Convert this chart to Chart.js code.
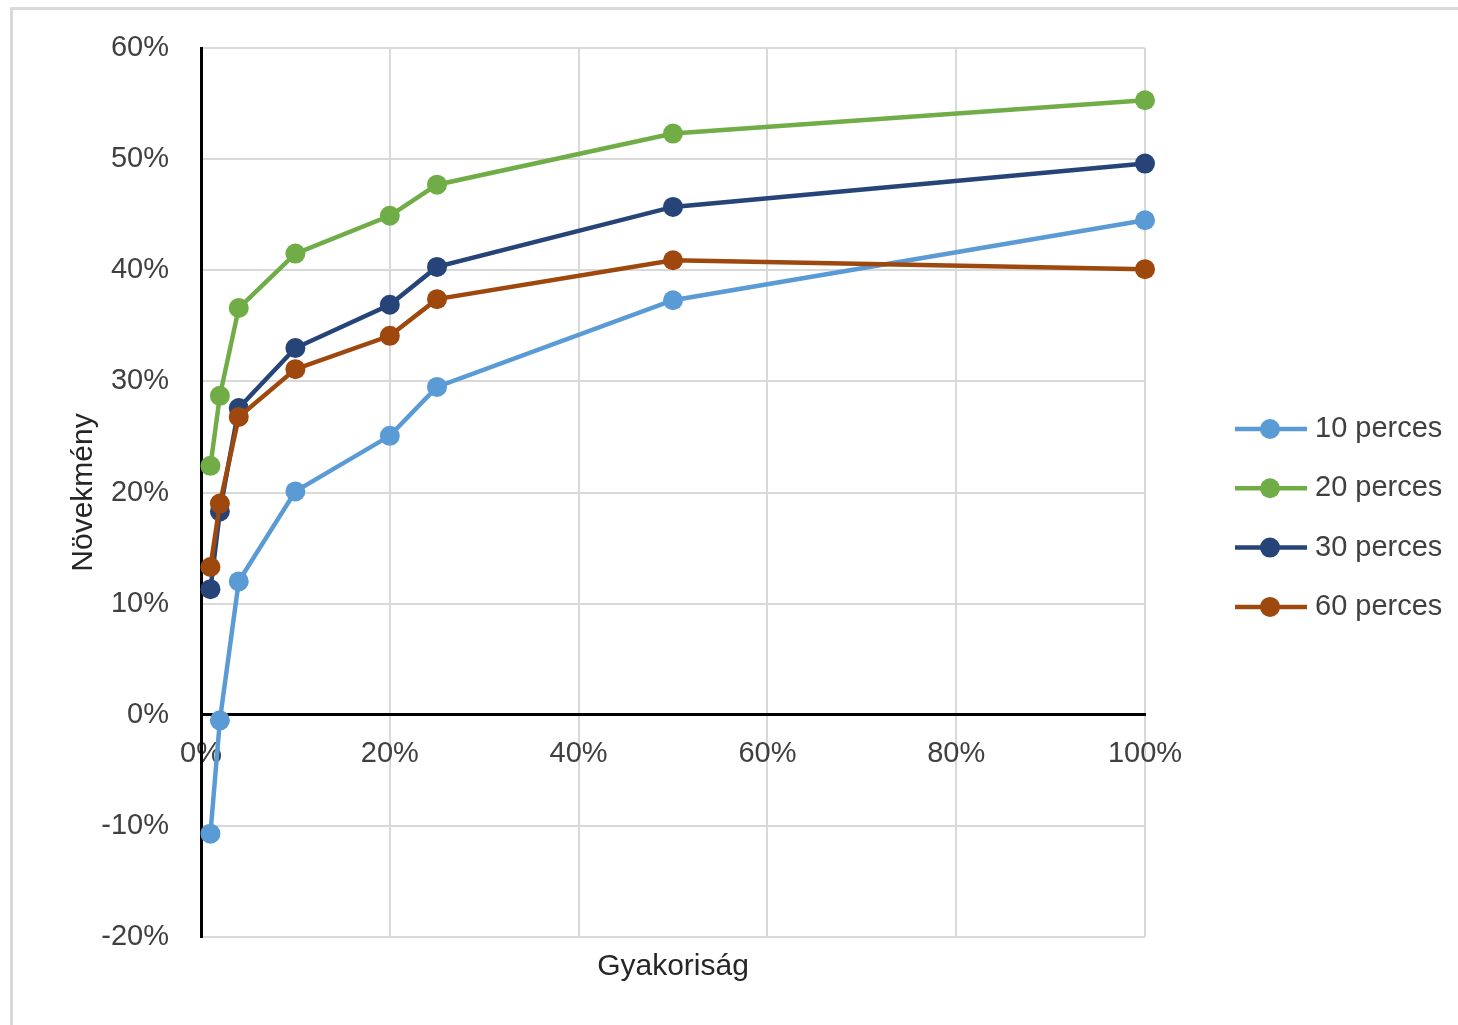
<!DOCTYPE html>
<html>
<head>
<meta charset="utf-8">
<script src="https://cdn.jsdelivr.net/npm/chart.js@4"></script>
<style>
  html, body { margin: 0; padding: 0; background: #fff; overflow: hidden; }
  #frame { position: absolute; left: 10px; top: 7px; width: 1500px; height: 1050px; border: 3px solid #d9d9d9; }
</style>
</head>
<body>
<div id="frame"><canvas id="chart" width="1445" height="1015"></canvas></div>
<script>
const FONT = "'Liberation Sans Narrow', 'Arial Narrow', 'Liberation Sans', sans-serif";
const TEXT = '#404040';

const gyakorisag = [1, 2, 4, 10, 20, 25, 50, 100];
const perc10 = [-10.7, -0.5, 12.0, 20.1, 25.1, 29.5, 37.3, 44.5];
const perc20 = [22.4, 28.7, 36.6, 41.5, 44.9, 47.7, 52.3, 55.3];
const perc30 = [11.3, 18.3, 27.6, 33.0, 36.9, 40.3, 45.7, 49.6];
const perc60 = [13.3, 19.0, 26.8, 31.1, 34.1, 37.4, 40.9, 40.1];
const seriesNames = ['10 perces', '20 perces', '30 perces', '60 perces'];
const colors = ['#5b9bd5', '#70ad47', '#264478', '#9e480e'];

const toPoints = vals => gyakorisag.map((x, i) => ({ x: x, y: vals[i] }));

function series(idx, vals) {
  return {
    label: seriesNames[idx],
    data: toPoints(vals),
    borderColor: colors[idx],
    backgroundColor: colors[idx],
    pointBackgroundColor: colors[idx],
    pointBorderWidth: 0,
    pointRadius: 10,
    borderWidth: 4.5,
    tension: 0,
    clip: false,
    order: 4 - idx
  };
}

// legend drawn as line + marker, like the spreadsheet one
const sideLegend = {
  id: 'sideLegend',
  afterDraw(chart) {
    const ctx = chart.ctx;
    ctx.save();
    chart.data.datasets.forEach((ds, i) => {
      const y = 419 + i * 59.3;
      ctx.strokeStyle = ds.borderColor;
      ctx.lineWidth = 4.5;
      ctx.beginPath();
      ctx.moveTo(1222, y);
      ctx.lineTo(1294, y);
      ctx.stroke();
      ctx.fillStyle = ds.borderColor;
      ctx.beginPath();
      ctx.arc(1257, y, 10, 0, Math.PI * 2);
      ctx.fill();
      ctx.fillStyle = TEXT;
      ctx.font = '29px ' + FONT;
      ctx.textBaseline = 'middle';
      ctx.textAlign = 'left';
      ctx.fillText(ds.label, 1302, y);
    });
    ctx.restore();
  }
};

new Chart(document.getElementById('chart'), {
  type: 'line',
  data: {
    datasets: [series(0, perc10), series(1, perc20), series(2, perc30), series(3, perc60)]
  },
  options: {
    responsive: false,
    animation: false,
    layout: { padding: { left: 0, top: 38, right: 313, bottom: 40 } },
    plugins: { legend: { display: false }, tooltip: { enabled: false } },
    scales: {
      x: {
        type: 'linear',
        position: { y: 0 },
        min: 0, max: 100,
        afterFit: s => { s.height = 0; },
        ticks: { stepSize: 20, padding: 22, color: TEXT, font: { family: FONT, size: 29 }, callback: v => v + '%' },
        grid: { color: '#d9d9d9', lineWidth: 2, drawTicks: false },
        border: { color: '#000', width: 3 }
      },
      x2: {
        type: 'linear',
        position: 'bottom',
        min: 0, max: 100,
        ticks: { display: false },
        grid: { display: false },
        border: { display: false },
        title: { display: true, text: 'Gyakoriság', color: '#262626', font: { family: FONT, size: 30 }, padding: { top: 4, bottom: 0 } }
      },
      y: {
        min: -20, max: 60,
        afterFit: s => { s.width = 188; s.paddingTop = 0; s.paddingBottom = 0; },
        ticks: { stepSize: 10, padding: 32, color: TEXT, font: { family: FONT, size: 29 }, callback: v => v + '%' },
        grid: {
          color: c => c.tick && c.tick.value === 0 ? '#000' : '#d9d9d9',
          lineWidth: c => c.tick && c.tick.value === 0 ? 3 : 2,
          drawTicks: false
        },
        border: { color: '#000', width: 3 },
        title: { display: true, text: 'Növekmény', color: '#262626', font: { family: FONT, size: 30 }, padding: { top: 53, bottom: 0 } }
      }
    }
  },
  plugins: [sideLegend]
});
</script>
</body>
</html>
